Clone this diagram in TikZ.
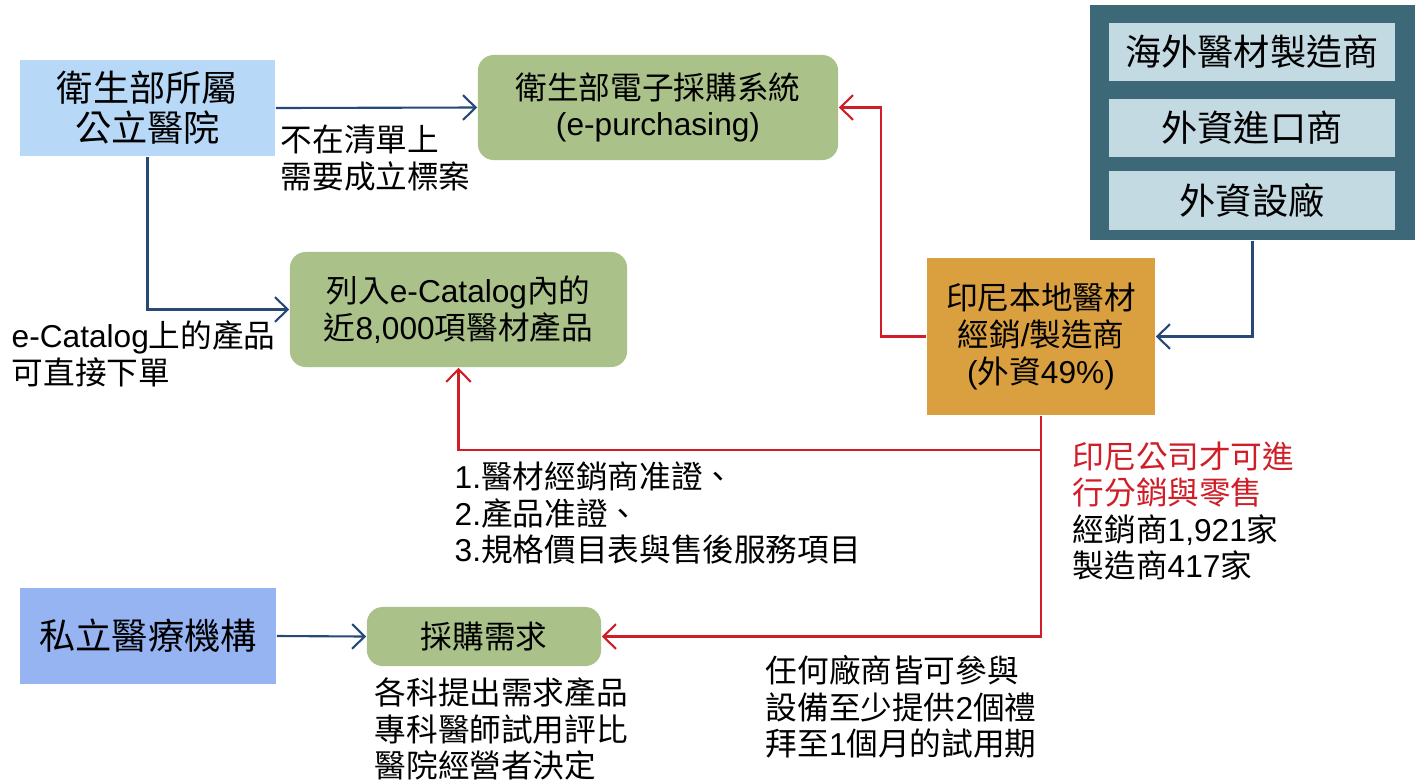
\documentclass[tikz,border=0pt]{standalone}
\usepackage{fontspec}
\setmainfont{Noto Sans CJK TC}
\newfontfamily\lat{Liberation Sans}
\usetikzlibrary{arrows.meta}
\usetikzlibrary{positioning}
\usepackage{xcolor}

\definecolor{hospblue}{RGB}{184,216,247}
\definecolor{privblue}{RGB}{150,180,242}
\definecolor{boxgreen}{RGB}{170,193,138}
\definecolor{frameteal}{RGB}{60,104,120}
\definecolor{innerblue}{RGB}{195,218,227}
\definecolor{localorange}{RGB}{218,160,64}
\definecolor{linkblue}{RGB}{38,73,120}
\definecolor{linkred}{RGB}{208,30,40}

\begin{document}
\begin{tikzpicture}[x=0.01cm, y=-0.01cm,
    txt/.style={font=\fontsize{9}{10.4}\selectfont},
    bigtxt/.style={font=\fontsize{10.3}{11.4}\selectfont},
    greenbox/.style={fill=boxgreen, rounded corners=4.5pt, align=center, txt},
    bluearr/.style={draw=linkblue, line width=0.6pt, -{Straight Barb[length=3.6pt,width=7pt]}},
    redarr/.style={draw=linkred, line width=0.6pt, -{Straight Barb[length=3.6pt,width=7pt]}},
    note/.style={txt, align=left, inner sep=0pt, anchor=west}]
    \useasboundingbox (0,0) rectangle (1415,781);

    % buyers
    \node[fill=hospblue, minimum width=2.55cm, minimum height=0.96cm, align=center, bigtxt] (hosp) at (147.5,108) {衛生部所屬\\公立醫院};
    \node[fill=privblue, minimum width=2.56cm, minimum height=0.96cm, bigtxt] (private) at (148,636) {私立醫療機構};

    % purchasing channels
    \node[greenbox, minimum width=3.6cm, minimum height=1.05cm] (epurch) at (658,107.5) {衛生部電子採購系統\\{\lat (e-purchasing)}};
    \node[greenbox, minimum width=3.37cm, minimum height=1.15cm] (catalog) at (458.5,309.5) {列入{\lat e-Catalog}內的\\近{\lat 8,000}項醫材產品};
    \node[greenbox, minimum width=2.34cm, minimum height=0.59cm] (demand) at (484,636.5) {採購需求};

    % suppliers
    \node[fill=frameteal, minimum width=3.25cm, minimum height=2.35cm] (frame) at (1252.5,122.5) {};
    \node[fill=innerblue, minimum width=2.86cm, minimum height=0.58cm, bigtxt] (maker) at (1252,52) {海外醫材製造商};
    \node[fill=innerblue, minimum width=2.86cm, minimum height=0.58cm, bigtxt] (importer) at (1252,128) {外資進口商};
    \node[fill=innerblue, minimum width=2.86cm, minimum height=0.59cm, bigtxt] (factory) at (1252,200.5) {外資設廠};
    \node[fill=localorange, minimum width=2.28cm, minimum height=1.57cm, align=center, txt] (local) at (1041,336.5) {印尼本地醫材\\經銷{\lat /}製造商\\{\lat (}外資{\lat 49\%)}};

    % links
    \draw[bluearr] (hosp.east) -- (epurch.west);
    \draw[bluearr] (hosp.south) |- (catalog.west);
    \draw[bluearr] (frame.south) |- (local.east);
    \draw[redarr] (local.west) -- ++(-45,0) |- (epurch.east);
    \draw[linkred, line width=0.6pt] (local.south) -- ++(0,34) coordinate (split);
    \draw[redarr] (split) -| (catalog.south);
    \draw[redarr] (split) |- (demand.east);
    \draw[bluearr] (private.east) -- (demand.west);

    % notes
    \node[note] (notlist) at (280,158) {不在清單上\\需要成立標案};
    \node[note] (direct) at (11,354) {{\lat e-Catalog}上的產品\\可直接下單};
    \node[note] (permits) at (454,513) {{\lat 1.}醫材經銷商准證、\\{\lat 2.}產品准證、\\{\lat 3.}規格價目表與售後服務項目};
    \node[note] (retail) at (1072,511) {\textcolor{linkred}{印尼公司才可進}\\\textcolor{linkred}{行分銷與零售}\\經銷商{\lat 1,921}家\\製造商{\lat 417}家};
    \node[note] (dept) at (374,729) {各科提出需求產品\\專科醫師試用評比\\醫院經營者決定};
    \node[note] (trial) at (765,707) {任何廠商皆可參與\\設備至少提供{\lat 2}個禮\\拜至{\lat 1}個月的試用期};
\end{tikzpicture}
\end{document}
